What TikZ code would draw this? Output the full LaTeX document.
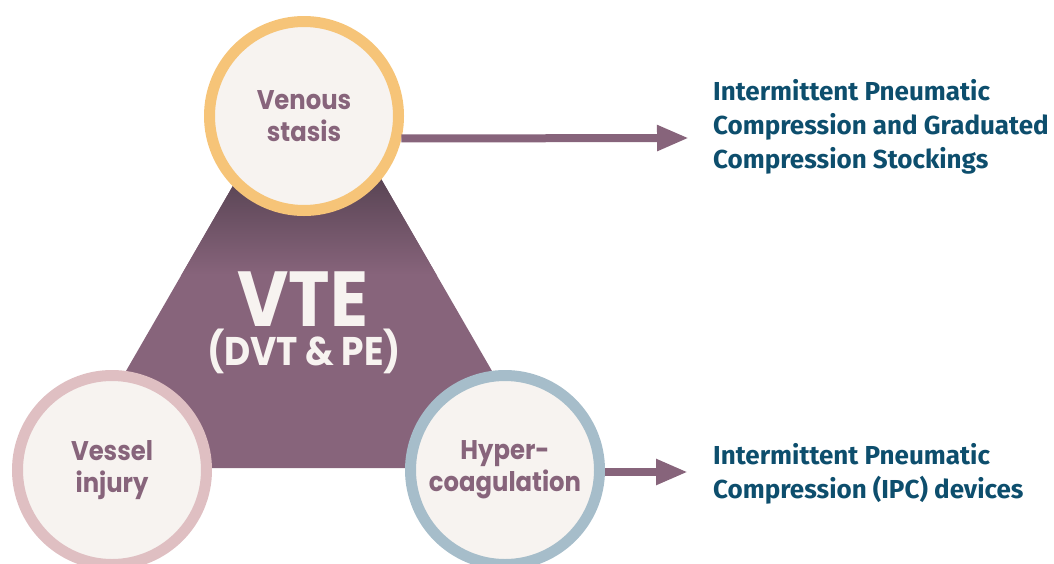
\documentclass[tikz,border=0pt]{standalone}
\usepackage{fontspec}
\usetikzlibrary{arrows.meta}
\newfontfamily\circfont{Poppins}[FakeStretch=0.9]
\newfontfamily\actfont{Fira Sans}
\definecolor{mauve}{HTML}{87647B}
\definecolor{mauvedark}{HTML}{5A4555}
\definecolor{circfill}{HTML}{F7F3F0}
\definecolor{stasisring}{HTML}{F6C478}
\definecolor{injuryring}{HTML}{DFBFC2}
\definecolor{coagring}{HTML}{A6BDCA}
\definecolor{actteal}{HTML}{0D4E6D}
\tikzset{
	factor/.style={circle, line width=11pt, minimum size=189pt, inner sep=0pt,
		fill=circfill, text=mauve, align=center,
		font=\circfont\bfseries\fontsize{27}{32}\selectfont},
	action/.style={anchor=north west, inner sep=0pt, align=left, text=actteal,
		font=\actfont\bfseries\fontsize{26}{34}\selectfont},
	arr/.style={draw=mauve, line width=8pt, -{Triangle[length=32pt,width=24pt]}}
}
\begin{document}
\begin{tikzpicture}[x=1pt, y=-1pt]
	\useasboundingbox (0, 0) rectangle (1054, 563);
	\begin{scope}
	\clip (309, 54) -- (70, 468) -- (548, 468) -- cycle;
	\fill[mauve] (0, 0) rectangle (1054, 563);
	\fill[mauvedark] (0, 0) rectangle (1054, 180);
	\shade[top color=mauvedark, bottom color=mauve] (0, 180) rectangle (1054, 275);
	\end{scope}
	\node[anchor=base, inner sep=0pt, text=circfill, font=\circfont\bfseries\fontsize{78}{78}\selectfont] (vte) at (303, 326) {VTE};
	\node[anchor=base, inner sep=0pt, text=circfill, font=\circfont\bfseries\fontsize{40}{40}\selectfont] (dvt) at (304, 365) {(DVT \& PE)};
	\coordinate (stasistip) at (689, 138);
	\coordinate (coagtip) at (688, 472);
	\node[action] (gcs) at (713, 79) {Intermittent Pneumatic\\Compression and Graduated\\Compression Stockings};
	\node[action] (ipc) at (713, 443) {Intermittent Pneumatic\\Compression (IPC) devices};
	\node[factor, draw=stasisring] (stasis) at (304, 116) {Venous\\stasis};
	\node[factor, draw=injuryring] (injury) at (112, 470) {Vessel\\injury};
	\node[factor, draw=coagring] (coag) at (505, 470) {Hyper-\\coagulation};
	\draw[arr] (stasis.-13) -- (stasistip);
	\draw[arr] (coag.east |- coagtip) -- (coagtip);
\end{tikzpicture}
\end{document}
